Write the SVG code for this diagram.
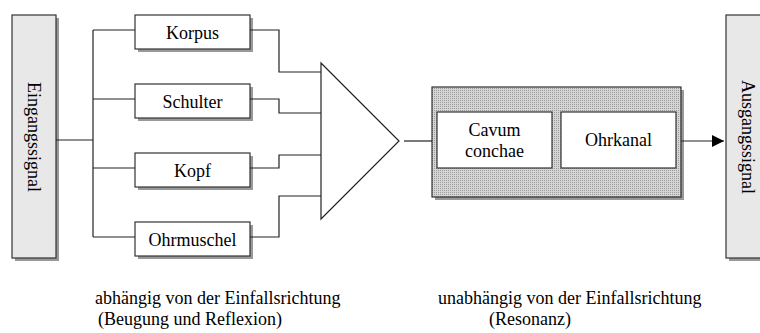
<svg xmlns="http://www.w3.org/2000/svg" width="760" height="333" viewBox="0 0 760 333">
<style>
  text { font-family: "Liberation Serif", "Times New Roman", serif; font-size: 18px; fill: #000; }
  .mid { text-anchor: middle; }
  .sig { fill: #e8e8e8; stroke: #333; stroke-width: 1.2; }
  .box { fill: #fff; stroke: #333; stroke-width: 1.2; }
  .shadow { fill: #999; }
  .wire { fill: none; stroke: #222; stroke-width: 1.2; }
</style>
<defs>
  <pattern id="dots" width="2" height="2" patternUnits="userSpaceOnUse">
    <rect width="2" height="2" fill="#d6d6d6"/>
    <rect width="1" height="1" fill="#9a9a9a"/>
  </pattern>
  <marker id="arrow" viewBox="0 0 12 12" refX="12" refY="6" markerWidth="12" markerHeight="12" markerUnits="userSpaceOnUse" orient="auto">
    <path d="M0,0 L12,6 L0,12 Z" fill="#000"/>
  </marker>
</defs>

<g id="eingangssignal">
  <rect class="shadow" x="15" y="18" width="44" height="243"/>
  <rect class="sig" x="12" y="15" width="44" height="243"/>
  <text class="mid" transform="translate(28,137) rotate(90)">Eingangssignal</text>
</g>

<g id="korpus">
  <rect class="shadow" x="138" y="18" width="115" height="34"/>
  <rect class="box" x="135" y="15" width="115" height="34"/>
  <text class="mid" x="192.5" y="39">Korpus</text>
</g>
<g id="schulter">
  <rect class="shadow" x="138" y="87" width="115" height="34"/>
  <rect class="box" x="135" y="84" width="115" height="34"/>
  <text class="mid" x="192.5" y="108">Schulter</text>
</g>
<g id="kopf">
  <rect class="shadow" x="138" y="156" width="115" height="34"/>
  <rect class="box" x="135" y="153" width="115" height="34"/>
  <text class="mid" x="192.5" y="177">Kopf</text>
</g>
<g id="ohrmuschel">
  <rect class="shadow" x="138" y="225" width="115" height="34"/>
  <rect class="box" x="135" y="222" width="115" height="34"/>
  <text class="mid" x="192.5" y="246">Ohrmuschel</text>
</g>

<g id="summierer">
  <polygon points="321,63 399,141 321,219" fill="#fff" stroke="#222" stroke-width="1.2"/>
</g>

<g id="resonanz">
  <rect class="shadow" x="435" y="90" width="249" height="110"/>
  <rect x="432" y="87" width="249" height="110" fill="url(#dots)" stroke="#333" stroke-width="1.2"/>
</g>
<g id="cavum">
  <rect class="box" x="437" y="112" width="115" height="56"/>
  <text class="mid" x="494.5" y="136">Cavum</text>
  <text class="mid" x="494.5" y="157">conchae</text>
</g>
<g id="ohrkanal">
  <rect class="box" x="561" y="112" width="115" height="56"/>
  <text class="mid" x="618.5" y="146">Ohrkanal</text>
</g>

<g id="ausgangssignal">
  <rect class="shadow" x="729" y="18" width="50" height="243"/>
  <rect class="sig" x="726" y="15" width="50" height="243"/>
  <text class="mid" transform="translate(742,137) rotate(90)">Ausgangssignal</text>
</g>

<g id="connectors">
  <path class="wire" d="M56,140 H93 M93,30 V237 M93,30 H135 M93,99 H135 M93,168 H135 M93,237 H135"/>
  <path class="wire" d="M250,30 H279 V72 H321"/>
  <path class="wire" d="M250,99 H279 V113 H321"/>
  <path class="wire" d="M250,168 H279 V155 H321"/>
  <path class="wire" d="M250,237 H279 V196 H321"/>
  <path class="wire" d="M404,141 H432"/>
  <path class="wire" d="M681,141 H724" marker-end="url(#arrow)"/>
</g>

<g id="labels">
  <text x="95" y="304">abhängig von der Einfallsrichtung</text>
  <text x="98" y="325">(Beugung und Reflexion)</text>
  <text x="438" y="304">unabhängig von der Einfallsrichtung</text>
  <text x="489" y="325">(Resonanz)</text>
</g>
</svg>
